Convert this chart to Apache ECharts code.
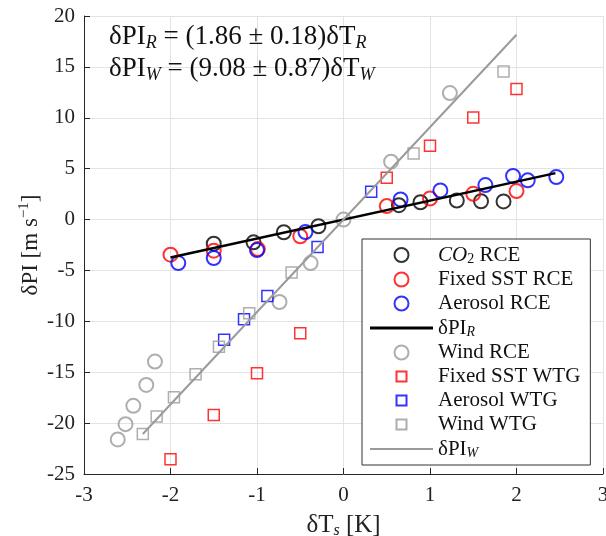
<!DOCTYPE html>
<html>
<head>
<meta charset="utf-8">
<script src="https://cdn.jsdelivr.net/npm/echarts@6/dist/echarts.min.js"></script>
<style>
  html, body { margin: 0; padding: 0; background: #fff; }
  #chart { width: 606px; height: 536px; }
</style>
</head>
<body>
<div id="chart"></div>
<script>
// data (dTs in K, dPI in m/s)
const co2RceX = [-1.5, -1.04, -0.69, -0.29, 0.64, 0.89, 1.31, 1.59, 1.85];
const co2RceY = [-2.37, -2.24, -1.25, -0.66, 1.41, 1.7, 1.87, 1.8, 1.78];

const sstRceX = [-2, -1.5, -0.99, -0.5, 0.5, 1, 1.5, 2];
const sstRceY = [-3.45, -3.06, -2.9, -1.64, 1.32, 2.07, 2.53, 2.8];

const aerRceX = [-1.91, -1.5, -1.0, -0.44, 0.66, 1.12, 1.64, 1.96, 2.13, 2.46];
const aerRceY = [-4.28, -3.78, -3.0, -1.22, 1.97, 2.86, 3.39, 4.28, 3.85, 4.18];

const windRceX = [-2.61, -2.52, -2.43, -2.28, -2.18, -0.74, -0.38, 0, 0.55, 1.23];
const windRceY = [-21.6, -20.1, -18.3, -16.25, -13.95, -8.1, -4.28, 0, 5.69, 12.43];

const sstWtgX = [-2, -1.5, -1, -0.5, 0.5, 1, 1.5, 2];
const sstWtgY = [-23.56, -19.2, -15.1, -11.16, 4.11, 7.24, 10.03, 12.83];

const aerWtgX = [-1.38, -1.15, -0.88, -0.3, 0.32];
const aerWtgY = [-11.8, -9.8, -7.5, -2.7, 2.73];

const windWtgX = [-2.32, -2.16, -1.96, -1.71, -1.44, -1.09, -0.6, 0.81, 1.85];
const windWtgY = [-21.07, -19.36, -17.46, -15.2, -12.5, -9.2, -5.2, 6.48, 14.54];

// fitted lines, end points
const fitRX = [-2, 2.45];
const fitRY = [-3.72, 4.56];
const fitWX = [-2.32, 2.0];
const fitWY = [-21.07, 18.16];

const xTicks = [-3, -2, -1, 0, 1, 2, 3];
const yTicks = [-25, -20, -15, -10, -5, 0, 5, 10, 15, 20];

const FONT = "'Liberation Serif', 'DejaVu Serif', serif";
const AXIS = "#262626";
const GRAY = "#9a9a9a";

// legend icons: small square inside a 14px box, flat bars for the fits
const SQUARE_ICON = "path://M2,2H12V12H2Z M0,0 M14,14";
const LINE_R_ICON = "path://M0,5.5H63V8.5H0Z M0,0 M0,14";
const LINE_W_ICON = "path://M0,6H63V8H0Z M0,0 M0,14";

const pairs = (xs, ys) => xs.map((x, i) => [x, ys[i]]);

const circles = (name, xs, ys, color) => ({
  name,
  type: "scatter",
  data: pairs(xs, ys),
  symbol: "circle",
  symbolSize: 14,
  symbolKeepAspect: true,
  itemStyle: { color: "transparent", borderColor: color, borderWidth: 2 },
});

const squares = (name, xs, ys, color) => ({
  name,
  type: "scatter",
  data: pairs(xs, ys),
  symbol: "rect",
  symbolSize: 11,
  symbolKeepAspect: true,
  itemStyle: { color: "transparent", borderColor: color, borderWidth: 1.5 },
});

const fitLine = (name, xs, ys, color, width) => ({
  name,
  type: "line",
  data: pairs(xs, ys),
  symbol: "none",
  lineStyle: { color, width },
  itemStyle: { color },
});

const chart = echarts.init(document.getElementById("chart"));

chart.setOption({
  animation: false,
  textStyle: { fontFamily: FONT },
  title: {
    left: 104,
    top: 16,
    text:
      "{m|δPI}{s|R}{m| = (1.86 ± 0.18)δT}{s|R}\n{m|δPI}{s|W}{m| = (9.08 ± 0.87)δT}{s|W}",
    textStyle: {
      fontFamily: FONT,
      fontWeight: "normal",
      color: "#111",
      lineHeight: 32,
      rich: {
        m: { fontFamily: FONT, fontSize: 27, color: "#111", lineHeight: 32 },
        s: {
          fontFamily: FONT,
          fontSize: 18,
          fontStyle: "italic",
          color: "#111",
          lineHeight: 32,
          padding: [13, 0, 0, 0],
        },
      },
    },
  },
  grid: { left: 84, right: 3, top: 16, bottom: 62, outerBoundsMode: "none", containLabel: false },
  xAxis: {
    type: "value",
    min: -3,
    max: 3,
    interval: 1,
    name: "{m|δT}{s|s}{m| [K]}",
    nameLocation: "middle",
    nameGap: 37,
    nameTextStyle: {
      rich: {
        m: { fontFamily: FONT, fontSize: 25, color: "#222" },
        s: { fontFamily: FONT, fontSize: 16, fontStyle: "italic", color: "#222", padding: [12, 0, 0, 0] },
      },
    },
    axisLine: { onZero: false, lineStyle: { color: AXIS, width: 1 } },
    axisTick: { inside: true, length: 6, lineStyle: { color: AXIS } },
    axisLabel: {
      fontFamily: FONT,
      fontSize: 21,
      color: "#222",
      margin: 11,
      formatter: (v) => (xTicks.includes(v) ? String(v) : ""),
    },
    splitLine: { show: true, lineStyle: { color: "#e3e3e3", width: 1 } },
  },
  yAxis: {
    type: "value",
    min: -25,
    max: 20,
    interval: 5,
    name: "{m|δPI [m s}{p|−1}{m|]}",
    nameLocation: "middle",
    nameGap: 40,
    nameMoveOverlap: false,
    nameTextStyle: {
      rich: {
        m: { fontFamily: FONT, fontSize: 23, color: "#222" },
        p: { fontFamily: FONT, fontSize: 15, color: "#222", padding: [0, 0, 12, 0] },
      },
    },
    axisLine: { show: true, onZero: false, lineStyle: { color: AXIS, width: 1 } },
    axisTick: { show: true, inside: true, length: 6, lineStyle: { color: AXIS } },
    axisLabel: {
      fontFamily: FONT,
      fontSize: 21,
      color: "#222",
      margin: 9,
      formatter: (v) => (yTicks.includes(v) ? String(v) : ""),
    },
    splitLine: { show: true, lineStyle: { color: "#e3e3e3", width: 1 } },
  },
  legend: {
    orient: "vertical",
    left: 362,
    top: 239,
    padding: [5, 10, 5, 8],
    backgroundColor: "#fff",
    borderColor: "#333",
    borderWidth: 1,
    itemWidth: 63,
    itemHeight: 14,
    itemGap: 3,
    textStyle: {
      fontFamily: FONT,
      fontSize: 21,
      color: "#111",
      lineHeight: 20,
      rich: {
        m: { fontFamily: FONT, fontSize: 21, color: "#111", lineHeight: 20 },
        i: { fontFamily: FONT, fontSize: 21, fontStyle: "italic", color: "#111", lineHeight: 20 },
        s: { fontFamily: FONT, fontSize: 14, fontStyle: "italic", color: "#111", lineHeight: 12, padding: [8, 0, 0, 0] },
        b: { fontFamily: FONT, fontSize: 14, color: "#111", lineHeight: 12, padding: [8, 0, 0, 0] },
      },
    },
    formatter: (name) => {
      if (name === "CO2 RCE") return "{i|CO}{b|2}{m| RCE}";
      if (name === "dPI_R") return "{m|δPI}{s|R}";
      if (name === "dPI_W") return "{m|δPI}{s|W}";
      return "{m|" + name + "}";
    },
    data: [
      "CO2 RCE",
      "Fixed SST RCE",
      "Aerosol RCE",
      { name: "dPI_R", icon: LINE_R_ICON },
      "Wind RCE",
      { name: "Fixed SST WTG", icon: SQUARE_ICON },
      { name: "Aerosol WTG", icon: SQUARE_ICON },
      { name: "Wind WTG", icon: SQUARE_ICON },
      { name: "dPI_W", icon: LINE_W_ICON },
    ],
  },
  series: [
    circles("CO2 RCE", co2RceX, co2RceY, "#000000"),
    circles("Fixed SST RCE", sstRceX, sstRceY, "#ff0000"),
    circles("Aerosol RCE", aerRceX, aerRceY, "#0000ff"),
    fitLine("dPI_R", fitRX, fitRY, "#000000", 2.5),
    circles("Wind RCE", windRceX, windRceY, GRAY),
    squares("Fixed SST WTG", sstWtgX, sstWtgY, "#ff0000"),
    squares("Aerosol WTG", aerWtgX, aerWtgY, "#0000ff"),
    squares("Wind WTG", windWtgX, windWtgY, GRAY),
    fitLine("dPI_W", fitWX, fitWY, GRAY, 2),
  ],
});
</script>
</body>
</html>
